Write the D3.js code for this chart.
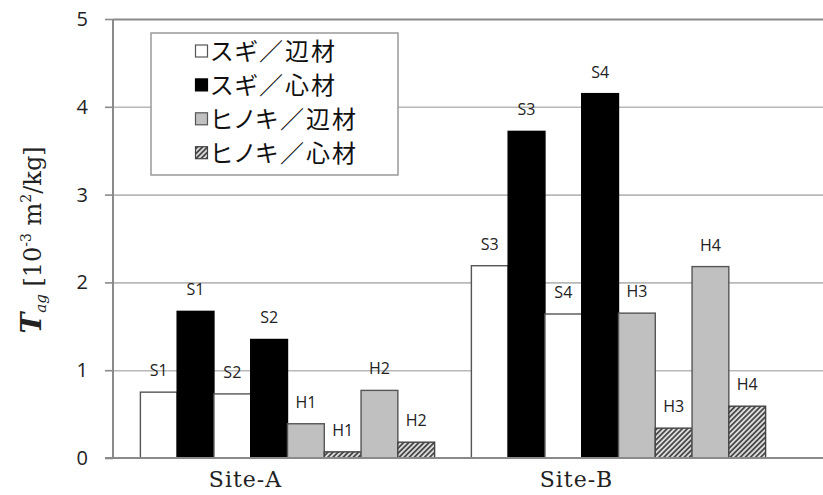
<!DOCTYPE html>
<html>
<head>
<meta charset="utf-8">
<script src="https://cdn.jsdelivr.net/npm/d3@7"></script>
<style>
  html, body { margin: 0; padding: 0; background: #fff; }
  svg { display: block; }
</style>
</head>
<body>
<svg id="chart" width="823" height="495"></svg>
<script>
// Sites along the category axis
const sites = ["Site-A", "Site-B"];
// Wood / part combinations shown in the legend
const materials = ["スギ／辺材", "スギ／心材", "ヒノキ／辺材", "ヒノキ／心材"];
// Material index of each of the eight bars inside a site group
const barMaterial = [0, 1, 0, 1, 2, 3, 2, 3];
// Sample label above each bar
const siteALabels = ["S1", "S1", "S2", "S2", "H1", "H1", "H2", "H2"];
const siteBLabels = ["S3", "S3", "S4", "S4", "H3", "H3", "H4", "H4"];
// T_ag values [10^-3 m^2/kg]
const siteAValues = [0.75, 1.67, 0.73, 1.35, 0.39, 0.07, 0.77, 0.18];
const siteBValues = [2.19, 3.72, 1.64, 4.15, 1.65, 0.34, 2.18, 0.59];
// Y axis ticks
const yTicks = [0, 1, 2, 3, 4, 5];

const barLabels = [siteALabels, siteBLabels];
const barValues = [siteAValues, siteBValues];

const svg = d3.select("#chart");
const plot = { left: 113, right: 823, top: 19, bottom: 458 };

const y = d3.scaleLinear().domain([0, 5]).range([plot.bottom, plot.top]);
const x0 = d3.scaleBand().domain(sites).range([122, 784]).padding(0);
const x1 = d3.scaleBand().domain(d3.range(8)).range([0, x0.bandwidth()]).paddingInner(0).paddingOuter(0.5);

// Diagonal hatching for the hinoki heartwood bars
const defs = svg.append("defs");
const pat = defs.append("pattern")
  .attr("id", "hatch").attr("patternUnits", "userSpaceOnUse")
  .attr("width", 3.6).attr("height", 3.6)
  .attr("patternTransform", "rotate(45)");
pat.append("rect").attr("width", 3.6).attr("height", 3.6).attr("fill", "#dcdcdc");
pat.append("rect").attr("x", 0).attr("width", 1.8).attr("height", 3.6).attr("fill", "#4a4a4a");

const fills = ["#ffffff", "#000000", "#c0c0c0", "url(#hatch)"];
const strokes = ["#555", "#000", "#555", "#444"];

// Gridlines
const grid = svg.append("g")
  .attr("transform", `translate(${plot.left},0)`)
  .call(d3.axisLeft(y).tickValues(yTicks.filter(d => d > 0)).tickSize(-(plot.right - plot.left)).tickFormat(""));
grid.select(".domain").remove();
grid.selectAll(".tick line")
  .attr("stroke", d => d === 5 ? "#8a8a8a" : "#b8b8b8")
  .attr("stroke-width", d => d === 5 ? 2 : 1.6);

// Bars
const groups = svg.append("g").selectAll("g")
  .data(sites).join("g")
  .attr("transform", d => `translate(${x0(d)},0)`);

groups.each(function (site, si) {
  const g = d3.select(this);
  const data = barValues[si].map((v, i) => ({ v, i, m: barMaterial[i], label: barLabels[si][i] }));
  g.selectAll("rect").data(data).join("rect")
    .attr("x", d => x1(d.i))
    .attr("y", d => y(d.v))
    .attr("width", x1.bandwidth())
    .attr("height", d => y(0) - y(d.v))
    .attr("fill", d => fills[d.m])
    .attr("stroke", d => strokes[d.m])
    .attr("stroke-width", 1.4);
  g.selectAll("text").data(data).join("text")
    .attr("x", d => x1(d.i) + x1.bandwidth() / 2)
    .attr("y", d => y(d.v) - 16)
    .attr("text-anchor", "middle")
    .attr("font-family", "'Open Sans', sans-serif")
    .attr("font-size", 16)
    .attr("fill", "#222")
    .text(d => d.label);
});

// Y axis
const yAxis = svg.append("g")
  .attr("transform", `translate(${plot.left},0)`)
  .call(d3.axisLeft(y).tickValues(yTicks).tickSize(8).tickPadding(17).tickFormat(d3.format("d")));
yAxis.select(".domain").attr("stroke", "#8a8a8a").attr("stroke-width", 2)
  .attr("d", `M0,${plot.top}V${plot.bottom}`);
yAxis.selectAll(".tick line").attr("stroke", "#8a8a8a").attr("stroke-width", 1.6);
yAxis.selectAll(".tick text")
  .attr("font-family", "'Open Sans', sans-serif")
  .attr("font-size", 20).attr("fill", "#222");

// X axis
const xAxis = svg.append("g")
  .attr("transform", `translate(0,${plot.bottom})`)
  .call(d3.axisBottom(x0).tickSize(0).tickPadding(0));
xAxis.select(".domain").attr("stroke", "#8a8a8a").attr("stroke-width", 2)
  .attr("d", `M${plot.left - 8},0H${plot.right}`);
xAxis.selectAll(".tick text")
  .attr("y", 29).attr("dy", 0).attr("dx", -42)
  .attr("font-family", "'DejaVu Serif', serif")
  .attr("font-size", 22).attr("letter-spacing", 1)
  .attr("fill", "#222");

// Y axis title
const title = svg.append("text")
  .attr("transform", "translate(41,240) rotate(-90)")
  .attr("text-anchor", "middle")
  .attr("font-family", "'DejaVu Serif', serif")
  .attr("font-size", 24).attr("fill", "#222");
title.append("tspan").attr("font-style", "italic").attr("font-weight", "bold").attr("font-size", 28).text("T");
title.append("tspan").attr("font-style", "italic").attr("font-size", 15).attr("dy", 5).text("ag");
title.append("tspan").attr("dy", -5).text(" [10");
title.append("tspan").attr("font-size", 14).attr("dy", -10).text("-3");
title.append("tspan").attr("dy", 10).text(" m");
title.append("tspan").attr("font-size", 14).attr("dy", -10).text("2");
title.append("tspan").attr("dy", 10).text("/kg]");

// Legend
const legend = svg.append("g");
legend.append("rect")
  .attr("x", 151).attr("y", 33).attr("width", 247).attr("height", 142)
  .attr("fill", "#fff").attr("stroke", "#999").attr("stroke-width", 1.5);
const rows = legend.selectAll("g.row").data(materials).join("g")
  .attr("class", "row")
  .attr("transform", (d, i) => `translate(195,${51.5 + i * 33.9})`);
rows.append("rect")
  .attr("x", 0.5).attr("y", -6.5).attr("width", 12).attr("height", 12)
  .attr("fill", (d, i) => fills[i]).attr("stroke", (d, i) => strokes[i]).attr("stroke-width", 1.2);
rows.append("text")
  .attr("x", 16).attr("y", 0).attr("dy", "0.36em")
  .attr("font-family", "'Noto Sans CJK JP', sans-serif")
  .attr("font-size", 24)
  .attr("letter-spacing", 2)
  .style("font-feature-settings", "'palt'")
  .attr("fill", "#111")
  .text(d => d);
</script>
</body>
</html>
